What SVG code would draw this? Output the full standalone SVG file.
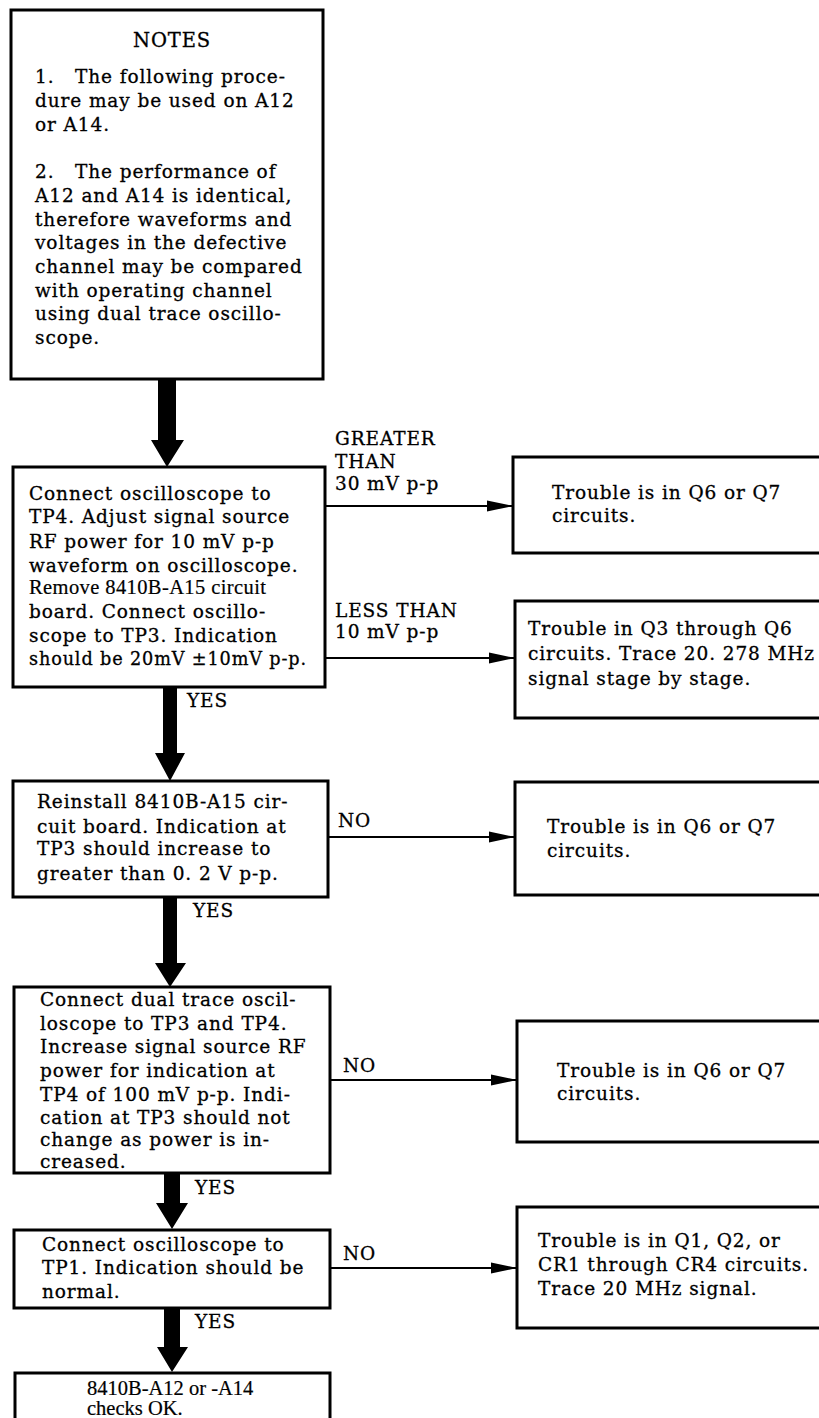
<svg xmlns="http://www.w3.org/2000/svg" width="819" height="1418" viewBox="0 0 819 1418">
<style>
.bx{fill:#fff;stroke:#000;stroke-width:3}
.t{font-family:"DejaVu Serif","Liberation Serif",serif;font-size:18.5px;letter-spacing:0.9px;fill:#000;stroke:#000;stroke-width:0.3}
.r{font-family:"Liberation Serif","Times New Roman",serif;font-size:20.5px;fill:#000;stroke:#000;stroke-width:0.2}
.ln{stroke:#000;stroke-width:2;fill:none}
.big{fill:#000}
</style>
<defs>
<marker id="ah" markerWidth="26" markerHeight="14" refX="26" refY="7" orient="auto" markerUnits="userSpaceOnUse">
<path d="M0,1.5 L26,7 L0,12.5 Z" fill="#000"/>
</marker>
</defs>
<rect width="819" height="1418" fill="#fff"/>

<g id="connectors">
<polygon class="big" points="158,380 176,380 176,440 184,440 167,467 151,440 158,440"/>
<polygon class="big" points="163,687 177,687 177,753 185,753 170,781 155,753 163,753"/>
<polygon class="big" points="163,897 177,897 177,963 186,963 170,987 155,963 163,963"/>
<polygon class="big" points="164,1173 180,1173 180,1203 188,1203 172,1229 156,1203 164,1203"/>
<polygon class="big" points="164,1308 180,1308 180,1347 188,1347 172,1372 157,1347 164,1347"/>
<line class="ln" x1="325" y1="506" x2="513" y2="506" marker-end="url(#ah)"/>
<line class="ln" x1="325" y1="658" x2="515" y2="658" marker-end="url(#ah)"/>
<line class="ln" x1="328" y1="837" x2="515" y2="837" marker-end="url(#ah)"/>
<line class="ln" x1="330" y1="1080" x2="517" y2="1080" marker-end="url(#ah)"/>
<line class="ln" x1="330" y1="1268" x2="517" y2="1268" marker-end="url(#ah)"/>
<text class="t" x="335" y="445">GREATER</text>
<text class="t" x="335" y="468">THAN</text>
<text class="t" x="335" y="490">30 mV p-p</text>
<text class="t" x="335" y="617">LESS THAN</text>
<text class="t" x="335" y="638">10 mV p-p</text>
<text class="t" x="187" y="707">YES</text>
<text class="t" x="338" y="827">NO</text>
<text class="t" x="193" y="917">YES</text>
<text class="t" x="343" y="1072">NO</text>
<text class="t" x="195" y="1194">YES</text>
<text class="t" x="343" y="1260">NO</text>
<text class="t" x="195" y="1328">YES</text>
</g>

<g id="notes">
<rect class="bx" x="11" y="10" width="312" height="369"/>
<text class="t" x="172" y="47" text-anchor="middle" style="font-size:19.5px">NOTES</text>
<text class="t" x="35" y="83">1.<tspan x="75">The following proce-</tspan></text>
<text class="t" x="35" y="107">dure may be used on A12</text>
<text class="t" x="35" y="131">or A14.</text>
<text class="t" x="35" y="178">2.<tspan x="75">The performance of</tspan></text>
<text class="t" x="35" y="202">A12 and A14 is identical,</text>
<text class="t" x="35" y="226">therefore waveforms and</text>
<text class="t" x="35" y="249">voltages in the defective</text>
<text class="t" x="35" y="273">channel may be compared</text>
<text class="t" x="35" y="297">with operating channel</text>
<text class="t" x="35" y="320">using dual trace oscillo-</text>
<text class="t" x="35" y="344">scope.</text>
</g>

<g id="step1">
<rect class="bx" x="13" y="467" width="312" height="220"/>
<text class="t" x="29" y="500">Connect oscilloscope to</text>
<text class="t" x="29" y="523">TP4. Adjust signal source</text>
<text class="t" x="29" y="548">RF power for 10 mV p-p</text>
<text class="t" x="29" y="572">waveform on oscilloscope.</text>
<text class="r" x="29" y="594" style="letter-spacing:0.4px">Remove 8410B-A15 circuit</text>
<text class="t" x="29" y="618">board. Connect oscillo-</text>
<text class="t" x="29" y="642">scope to TP3. Indication</text>
<text class="t" x="29" y="665" textLength="278" lengthAdjust="spacingAndGlyphs">should be 20mV ±10mV p-p.</text>
</g>

<g id="result1">
<rect class="bx" x="513" y="457" width="320" height="96"/>
<text class="t" x="552" y="499">Trouble is in Q6 or Q7</text>
<text class="t" x="552" y="522">circuits.</text>
</g>

<g id="result2">
<rect class="bx" x="515" y="601" width="320" height="117"/>
<text class="t" x="528" y="635">Trouble in Q3 through Q6</text>
<text class="t" x="528" y="660">circuits. Trace 20. 278 MHz</text>
<text class="t" x="528" y="685">signal stage by stage.</text>
</g>

<g id="step2">
<rect class="bx" x="13" y="781" width="315" height="116"/>
<text class="t" x="37" y="808">Reinstall 8410B-A15 cir-</text>
<text class="t" x="37" y="833">cuit board. Indication at</text>
<text class="t" x="37" y="855">TP3 should increase to</text>
<text class="t" x="37" y="880">greater than 0. 2 V p-p.</text>
</g>

<g id="result3">
<rect class="bx" x="515" y="782" width="320" height="113"/>
<text class="t" x="547" y="833">Trouble is in Q6 or Q7</text>
<text class="t" x="547" y="857">circuits.</text>
</g>

<g id="step3">
<rect class="bx" x="14" y="987" width="316" height="186"/>
<text class="t" x="40" y="1006">Connect dual trace oscil-</text>
<text class="t" x="40" y="1030">loscope to TP3 and TP4.</text>
<text class="t" x="40" y="1053">Increase signal source RF</text>
<text class="t" x="40" y="1077">power for indication at</text>
<text class="t" x="40" y="1101">TP4 of 100 mV p-p. Indi-</text>
<text class="t" x="40" y="1124">cation at TP3 should not</text>
<text class="t" x="40" y="1146">change as power is in-</text>
<text class="t" x="40" y="1168">creased.</text>
</g>

<g id="result4">
<rect class="bx" x="517" y="1021" width="320" height="121"/>
<text class="t" x="557" y="1077">Trouble is in Q6 or Q7</text>
<text class="t" x="557" y="1100">circuits.</text>
</g>

<g id="step4">
<rect class="bx" x="14" y="1230" width="316" height="78"/>
<text class="t" x="42" y="1251">Connect oscilloscope to</text>
<text class="t" x="42" y="1274">TP1. Indication should be</text>
<text class="t" x="42" y="1298">normal.</text>
</g>

<g id="result5">
<rect class="bx" x="517" y="1207" width="320" height="121"/>
<text class="t" x="538" y="1247">Trouble is in Q1, Q2, or</text>
<text class="t" x="538" y="1271">CR1 through CR4 circuits.</text>
<text class="t" x="538" y="1295">Trace 20 MHz signal.</text>
</g>

<g id="final">
<rect class="bx" x="15" y="1373" width="315" height="60"/>
<text class="r" x="87" y="1395">8410B-A12 or -A14</text>
<text class="r" x="87" y="1415">checks OK.</text>
</g>
</svg>
